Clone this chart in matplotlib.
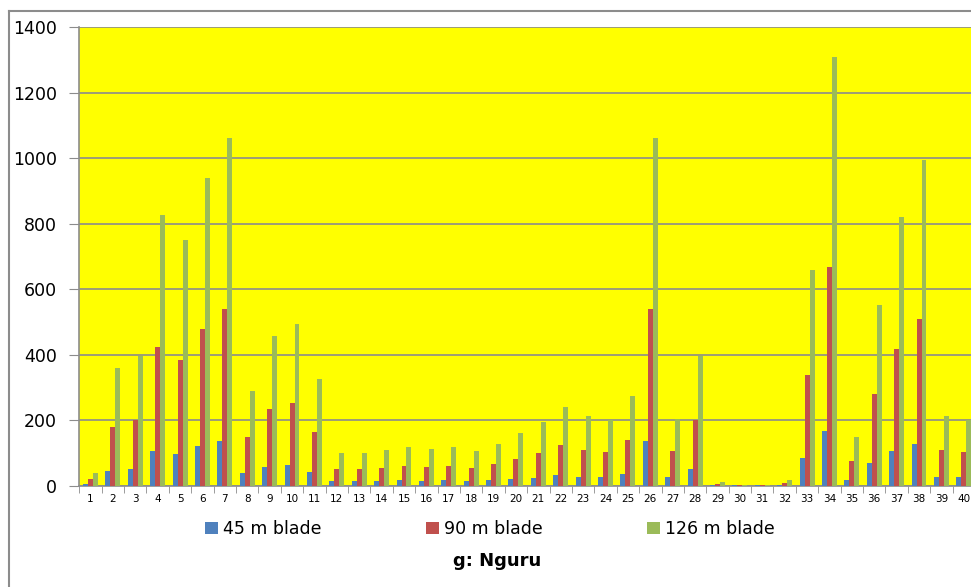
import numpy as np
import matplotlib
matplotlib.use("Agg")
import matplotlib.pyplot as plt
from matplotlib.lines import Line2D

# site numbers along the x axis
sites = list(range(1, 41))

# values per blade length
blade_45 = [6, 46, 51, 106, 98, 121, 137, 39, 59, 64,
            44, 15, 15, 15, 18, 15, 18, 15, 18, 22,
            25, 34, 28, 28, 36, 137, 28, 51, 3, 2,
            2, 3, 85, 168, 19, 71, 106, 129, 28, 28]
blade_90 = [21, 181, 201, 423, 384, 479, 541, 148, 234, 252,
            166, 51, 51, 56, 61, 59, 61, 56, 67, 82,
            101, 124, 109, 104, 139, 541, 106, 201, 6, 3,
            3, 9, 339, 669, 76, 281, 419, 508, 109, 104]
blade_126 = [40, 360, 397, 826, 751, 940, 1061, 289, 456, 495,
             326, 101, 101, 109, 119, 113, 119, 106, 129, 161,
             196, 242, 214, 201, 275, 1061, 204, 395, 12, 3,
             2, 17, 659, 1309, 148, 552, 821, 995, 214, 201]

labels = ["45 m blade", "90 m blade", "126 m blade"]
colors = ["#4F81BD", "#C0504D", "#9BBB59"]
grid_col = "#8C8C8C"

fig = plt.figure(figsize=(9.71, 5.87), dpi=100)
W, H = 971.0, 587.0
ax = fig.add_axes([79.3 / W, 101 / H, (975 - 79.3) / W, 459 / H])
ax.set_facecolor("#FFFF00")

x = np.arange(len(sites))
bw = 1 / 4.5
for k, (vals, lab, c) in enumerate(zip([blade_45, blade_90, blade_126], labels, colors)):
    ax.bar(x + (k - 1) * bw, vals, width=bw, color=c, label=lab, zorder=3)

ax.set_xlim(-0.5, len(sites) - 0.5)
ax.set_ylim(0, 1400)
ax.set_yticks(range(0, 1401, 200))
ax.yaxis.grid(True, color=grid_col, linewidth=1.2, zorder=1)
ax.tick_params(axis="y", labelsize=12.5, length=7, color=grid_col, pad=9)

ax.set_xticks(x)
ax.set_xticklabels([str(s) for s in sites], fontsize=7.5)
ax.set_xticks(np.arange(-0.5, len(sites), 1), minor=True)
ax.tick_params(axis="x", which="major", length=0, pad=6)
ax.tick_params(axis="x", which="minor", length=5, color=grid_col)

for side in ["top", "right"]:
    ax.spines[side].set_visible(False)
for side in ["left", "bottom"]:
    ax.spines[side].set_color(grid_col)
    ax.spines[side].set_linewidth(1.2)

fig.legend(loc="center", bbox_to_anchor=(490 / W, 1 - 529 / H), ncol=3,
           frameon=False, fontsize=12.5, handlelength=0.75, handleheight=0.75,
           handletextpad=0.3, columnspacing=6.0)
fig.text(497 / W, 1 - 561 / H, "g: Nguru", ha="center", va="center",
         fontsize=13, fontweight="bold")

# outer chart border
fig.add_artist(Line2D([9 / W, 9 / W], [0, 1 - 11 / H], color=grid_col, lw=1.5))
fig.add_artist(Line2D([9 / W, 1], [1 - 11 / H, 1 - 11 / H], color=grid_col, lw=1.5))

fig.savefig("out.png", dpi=100)
